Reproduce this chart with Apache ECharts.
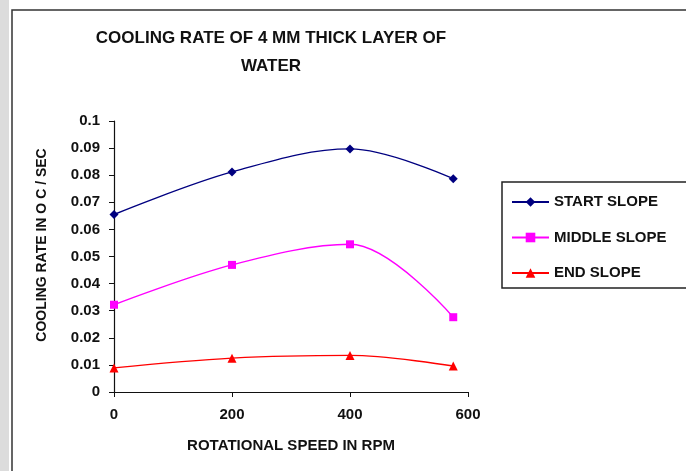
<!DOCTYPE html>
<html>
<head>
<meta charset="utf-8">
<script src="https://cdn.jsdelivr.net/npm/echarts@6/dist/echarts.min.js"></script>
<style>
  html, body { margin: 0; padding: 0; background: #fff; }
  #chart { width: 686px; height: 471px; }
</style>
</head>
<body>
<div id="chart"></div>
<script>
// rpm values and cooling rates
var speeds = [0, 200, 400, 575];
var startSlope = [0.0655, 0.0812, 0.0897, 0.0787];
var middleSlope = [0.0322, 0.0469, 0.0545, 0.0276];
var endSlope = [0.0089, 0.0125, 0.0135, 0.0096];
var seriesNames = ['START SLOPE', 'MIDDLE SLOPE', 'END SLOPE'];

var FONT = '"Liberation Sans", Arial, sans-serif';

function pairs(vals) {
    return speeds.map(function (s, i) { return [s, vals[i]]; });
}

function line(name, vals, color, symbol, size) {
    return {
        name: name,
        type: 'line',
        data: pairs(vals),
        smooth: 0.35,
        symbol: symbol,
        symbolSize: size,
        lineStyle: { color: color, width: 1.4 },
        itemStyle: { color: color },
        z: 3
    };
}

var chart = echarts.init(document.getElementById('chart'));
chart.setOption({
    animation: false,
    backgroundColor: '#fff',
    grid: { left: 114, right: 218, top: 121, bottom: 79, containLabel: false },
    graphic: [
        { type: 'rect', shape: { x: 0, y: 0, width: 9, height: 471 }, style: { fill: '#dcdcdc' } },
        { type: 'rect', shape: { x: 12, y: 10, width: 700, height: 480 },
          style: { fill: 'none', stroke: '#333', lineWidth: 1.5 } },
        { type: 'rect', shape: { x: 502, y: 182, width: 220, height: 106 },
          style: { fill: '#fff', stroke: '#222', lineWidth: 1.5 }, z: 1 },
        { type: 'text', x: 271, y: 52, z: 5,
          style: { text: 'COOLING RATE OF 4 MM THICK LAYER OF\nWATER', fill: '#111',
                   font: 'bold 17px ' + FONT, align: 'center', verticalAlign: 'middle', lineHeight: 28 } },
        { type: 'text', x: 42, y: 245, rotation: Math.PI / 2, z: 5,
          style: { text: 'COOLING RATE IN O C / SEC', fill: '#111',
                   font: 'bold 14px ' + FONT, align: 'center', verticalAlign: 'middle' } }
    ],
    legend: {
        orient: 'vertical',
        left: 511,
        top: 194,
        padding: 0,
        itemWidth: 37,
        itemHeight: 12,
        itemGap: 19.5,
        z: 4,
        data: seriesNames,
        textStyle: { color: '#111', fontFamily: FONT, fontWeight: 'bold', fontSize: 15, lineHeight: 16 }
    },
    xAxis: {
        type: 'value',
        min: 0,
        max: 600,
        interval: 200,
        name: 'ROTATIONAL SPEED IN RPM',
        nameLocation: 'middle',
        nameGap: 46,
        nameTextStyle: { color: '#111', fontFamily: FONT, fontWeight: 'bold', fontSize: 15 },
        splitLine: { show: false },
        axisLine: { lineStyle: { color: '#111', width: 1.2 } },
        axisTick: { show: true, length: 5, lineStyle: { color: '#111' } },
        axisLabel: { color: '#111', fontFamily: FONT, fontWeight: 'bold', fontSize: 15, margin: 15 }
    },
    yAxis: {
        type: 'value',
        min: 0,
        max: 0.1,
        interval: 0.01,
        splitLine: { show: false },
        axisLine: { show: true, lineStyle: { color: '#111', width: 1.2 } },
        axisTick: { show: true, length: 5, lineStyle: { color: '#111' } },
        axisLabel: {
            color: '#111', fontFamily: FONT, fontWeight: 'bold', fontSize: 15, margin: 14,
            formatter: function (v) { return String(+v.toFixed(2)); }
        }
    },
    series: [
        line(seriesNames[0], startSlope, '#000080', 'diamond', 9),
        line(seriesNames[1], middleSlope, '#ff00ff', 'rect', 8),
        line(seriesNames[2], endSlope, '#ff0000', 'triangle', 9)
    ]
});
</script>
</body>
</html>
